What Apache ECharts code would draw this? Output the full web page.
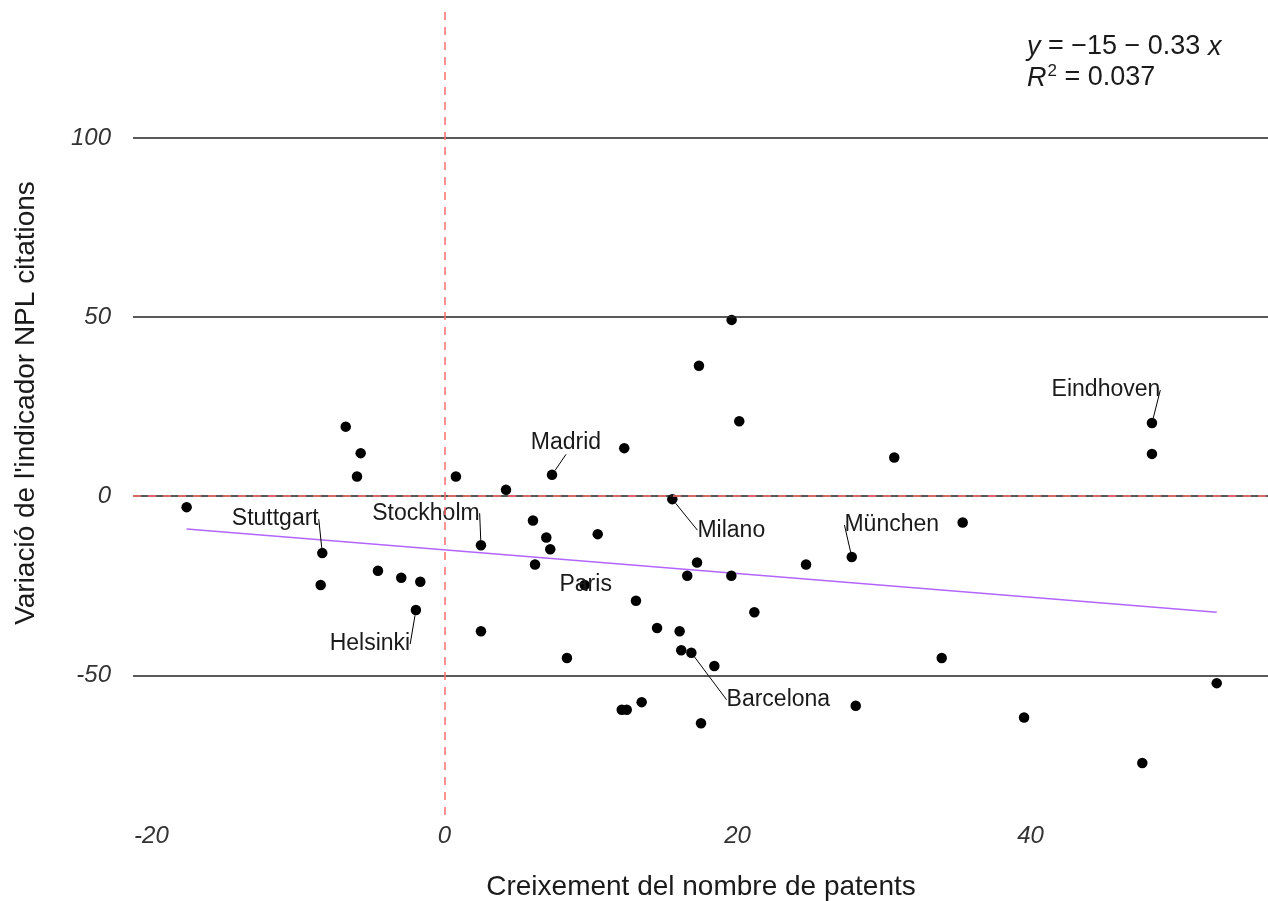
<!DOCTYPE html>
<html><head><meta charset="utf-8">
<script src="https://cdn.jsdelivr.net/npm/echarts@6/dist/echarts.min.js"></script>
<style>html,body{margin:0;padding:0;background:#fff}#c{width:1268px;height:901px}</style>
</head><body><div id="c"></div>
<script>
// ---- data ----
const xValues = [-17.60,-6.74,-5.72,-5.97,0.78,-8.34,-8.45,-4.54,-2.95,-1.65,-1.95,2.49,2.49,20.12,12.27,7.34,4.20,15.55,6.04,6.95,7.22,10.46,6.18,17.24,16.57,19.58,24.68,9.57,13.07,21.15,14.51,16.05,16.16,16.85,18.42,8.36,13.46,12.10,12.44,17.51,48.29,48.29,30.70,35.37,27.80,33.94,52.71,28.07,39.56,47.63,17.37,19.60];
const yValues = [-3.07,19.4,12.0,5.47,5.47,-15.9,-24.8,-20.8,-22.8,-23.9,-31.8,-13.7,-37.7,20.9,13.4,5.94,1.76,-0.84,-6.81,-11.55,-14.8,-10.6,-19.1,-18.5,-22.2,-22.2,-19.1,-24.8,-29.2,-32.4,-36.8,-37.7,-43.0,-43.7,-47.4,-45.2,-57.5,-59.6,-59.6,-63.4,20.4,11.8,10.8,-7.37,-17.0,-45.2,-52.2,-58.5,-61.8,-74.5,36.4,49.2];
const pointNames = ['','','','','','Stuttgart','','','','','Helsinki','Stockholm','','','','Madrid','','Milano','','','','','','','','','','Paris','','','','','','Barcelona','','','','','','','Eindhoven','','','','München','','','','','','',''];
const xTicks = [-20, 0, 20, 40];
const yTicks = [-50, 0, 50, 100];
const fitX = [-17.60, 52.71];
const fitY = [-9.19, -32.39];
const xTitle = 'Creixement del nombre de patents';
const yTitle = "Variació de l'indicador NPL citations";

// ---- label placement (pixel offsets of label centre from point) ----
const labelOffsets = {
  'Stuttgart': [-47, -34], 'Stockholm': [-55, -32], 'Helsinki': [-46, 34],
  'Madrid': [14, -32], 'Milano': [59, 31], 'Paris': [1, 0],
  'Barcelona': [87, 47], 'München': [40, -32], 'Eindhoven': [-46, -33]
};

const FONT = '"Liberation Sans", Arial, sans-serif';
const chart = echarts.init(document.getElementById('c'));

const scatterData = xValues.map((x, i) => {
  const item = { value: [x, yValues[i]], name: pointNames[i] };
  if (!pointNames[i]) item.label = { show: false };
  if (pointNames[i] === 'Paris') item.labelLine = { show: false };
  return item;
});

const gridLineData = yTicks.map(v => ({ yAxis: v }));

chart.setOption({
  animation: false,
  backgroundColor: '#fff',
  grid: { left: 133, right: 0, top: 10, bottom: 86, containLabel: false },
  xAxis: {
    type: 'value', min: -21.26, max: 56.21,
    axisLine: { show: false }, axisTick: { show: false }, splitLine: { show: false },
    axisLabel: {
      customValues: xTicks, fontFamily: FONT, fontStyle: 'italic', fontSize: 24,
      color: '#333', margin: 9
    }
  },
  yAxis: {
    type: 'value', min: -89, max: 135.7,
    axisLine: { show: false }, axisTick: { show: false }, splitLine: { show: false },
    axisLabel: {
      customValues: yTicks, fontFamily: FONT, fontStyle: 'italic', fontSize: 24,
      color: '#333', margin: 22
    }
  },
  graphic: [
    { type: 'text', x: 701, y: 887, style: { text: xTitle, font: '28px ' + FONT, fill: '#1a1a1a', align: 'center', verticalAlign: 'middle' } },
    { type: 'text', x: 26, y: 403, rotation: Math.PI / 2, style: { text: yTitle, font: '28px ' + FONT, fill: '#1a1a1a', align: 'center', verticalAlign: 'middle' } },
    { type: 'text', x: 1027, y: 47, style: {
        text: '{i|y} = −15 − 0.33 {i|x}', font: '27px ' + FONT, fill: '#1a1a1a', verticalAlign: 'middle',
        rich: { i: { fontStyle: 'italic', fontSize: 27, fontFamily: FONT, fill: '#1a1a1a' } } } },
    { type: 'text', x: 1027, y: 78, style: {
        text: '{i|R}{s|2} = 0.037', font: '27px ' + FONT, fill: '#1a1a1a', verticalAlign: 'middle',
        rich: { i: { fontStyle: 'italic', fontSize: 27, fontFamily: FONT }, s: { fontSize: 17, fontFamily: FONT, padding: [0, 0, 14, 1] } } } }
  ],
  series: [
    {
      type: 'line', data: [], silent: true, z: 1,
      markLine: {
        silent: true, symbol: 'none', label: { show: false },
        lineStyle: { color: '#222', width: 1.5, type: 'solid', opacity: 1 },
        data: gridLineData
      }
    },
    {
      type: 'line', data: [], silent: true, z: 2,
      markLine: {
        silent: true, symbol: 'none', label: { show: false },
        lineStyle: { color: '#ff6e6e', width: 1.5, type: [8, 7], opacity: 1 },
        data: [{ yAxis: 0 }, { xAxis: 0 }]
      }
    },
    {
      type: 'line', z: 3, silent: true, symbol: 'none',
      data: fitX.map((x, i) => [x, fitY[i]]),
      lineStyle: { color: '#b266ff', width: 1.5 }
    },
    {
      type: 'scatter', z: 4, symbolSize: 10.5,
      itemStyle: { color: '#000', opacity: 1 },
      data: scatterData,
      label: {
        show: true, position: 'inside', formatter: p => p.name,
        fontFamily: FONT, fontSize: 23, color: '#1a1a1a'
      },
      labelLine: { show: true, lineStyle: { color: '#000', width: 1 } },
      labelLayout: (params) => {
        const o = labelOffsets[pointNames[params.dataIndex]];
        return o ? { dx: o[0], dy: o[1] } : {};
      }
    }
  ]
});
</script>
</body></html>
